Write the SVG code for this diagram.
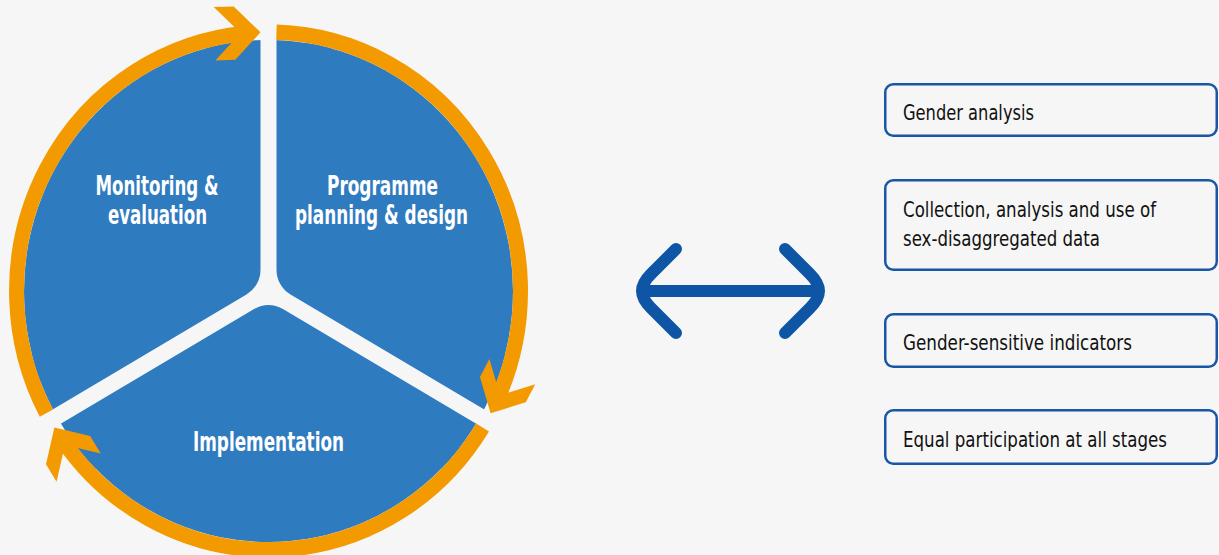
<svg xmlns="http://www.w3.org/2000/svg" width="1219" height="555" viewBox="0 0 1219 555">
  <style>
    .sector { fill: #2f7bbf; stroke: #2f7bbf; stroke-width: 56; stroke-linejoin: round; }
    .ring { fill: none; stroke: #f39a00; stroke-width: 15; stroke-linecap: butt; }
    .chev { fill: #f39a00; }
    .stage { font-family: "DejaVu Sans Condensed", "DejaVu Sans", sans-serif; font-weight: bold; font-size: 26px; fill: #ffffff; text-anchor: middle; }
    .box { fill: #f6f6f6; stroke: #1757a6; stroke-width: 2.5; }
    .btxt { font-family: "DejaVu Sans Condensed", "DejaVu Sans", sans-serif; font-size: 21px; fill: #111111; }
    .dbl { fill: none; stroke: #0f55a5; stroke-width: 12; stroke-linecap: round; stroke-linejoin: round; }
  </style>
  <defs>
    <clipPath id="disk">
      <circle cx="0" cy="0" r="244.5"/>
    </clipPath>
    <path id="chevron" d="M0,0 L-26,-26 L-46,-26 L-20,0 L-46,26 L-26,26 Z"/>
  </defs>
  <rect x="0" y="0" width="1219" height="555" fill="#f6f6f6"/>

  <g transform="translate(268.5,291) scale(1,1.027)">
    <g id="node-planning" clip-path="url(#disk)">
      <path class="sector" d="M36,-20.78 L36,-420.78 L346.4,-200 L382.4,179.2 Z"/>
    </g>
    <g id="node-implementation" clip-path="url(#disk)">
      <path class="sector" d="M0,41.57 L346.4,241.57 L0,400 L-346.4,241.57 Z"/>
    </g>
    <g id="node-monitoring" clip-path="url(#disk)">
      <path class="sector" d="M-36,-20.78 L-382.4,179.2 L-346.4,-200 L-36,-420.78 Z"/>
    </g>
    <g id="cycle-connectors">
      <path class="ring" d="M-222.1,119.0 A252,252 0 0 1 -23.0,-250.9"/>
      <path class="ring" d="M8.0,-251.9 A252,252 0 0 1 228.8,105.6"/>
      <path class="ring" d="M214.1,132.9 A252,252 0 0 1 -205.9,145.3"/>
      <use href="#chevron" class="chev" transform="translate(-8.0,-251.9) rotate(-1.82)"/>
      <use href="#chevron" class="chev" transform="translate(222.1,119.0) rotate(118.18)"/>
      <use href="#chevron" class="chev" transform="translate(-214.1,132.9) rotate(238.18)"/>
    </g>
  </g>

  <g id="labels">
    <text class="stage" x="157" y="195" textLength="123" lengthAdjust="spacingAndGlyphs">Monitoring &amp;</text>
    <text class="stage" x="157.5" y="224" textLength="99" lengthAdjust="spacingAndGlyphs">evaluation</text>
    <text class="stage" x="382.5" y="195" textLength="111" lengthAdjust="spacingAndGlyphs">Programme</text>
    <text class="stage" x="381.5" y="224" textLength="173" lengthAdjust="spacingAndGlyphs">planning &amp; design</text>
    <text class="stage" x="268.5" y="451" textLength="151" lengthAdjust="spacingAndGlyphs">Implementation</text>
  </g>

  <g id="connectors">
    <path class="dbl" d="M645,291 L818,291"/>
    <path class="dbl" d="M676,249 L651,274 Q642,283 642,291 Q642,299 651,308 L676,333"/>
    <path class="dbl" d="M785,249 L810,274 Q819,283 819,291 Q819,299 810,308 L785,333"/>
  </g>

  <g id="box-gender-analysis">
    <rect class="box" x="885.25" y="84.25" width="331.5" height="51.5" rx="8"/>
    <text class="btxt" x="903" y="120" textLength="131" lengthAdjust="spacingAndGlyphs">Gender analysis</text>
  </g>
  <g id="box-data">
    <rect class="box" x="885.25" y="180.25" width="331.5" height="89.5" rx="8"/>
    <text class="btxt" x="903" y="216.5" textLength="253" lengthAdjust="spacingAndGlyphs">Collection, analysis and use of</text>
    <text class="btxt" x="903" y="245.5" textLength="197" lengthAdjust="spacingAndGlyphs">sex-disaggregated data</text>
  </g>
  <g id="box-indicators">
    <rect class="box" x="885.25" y="314.25" width="331.5" height="52.5" rx="8"/>
    <text class="btxt" x="903" y="349.5" textLength="229" lengthAdjust="spacingAndGlyphs">Gender-sensitive indicators</text>
  </g>
  <g id="box-participation">
    <rect class="box" x="885.25" y="410.25" width="331.5" height="53.5" rx="8"/>
    <text class="btxt" x="903" y="446.5" textLength="264" lengthAdjust="spacingAndGlyphs">Equal participation at all stages</text>
  </g>
</svg>
